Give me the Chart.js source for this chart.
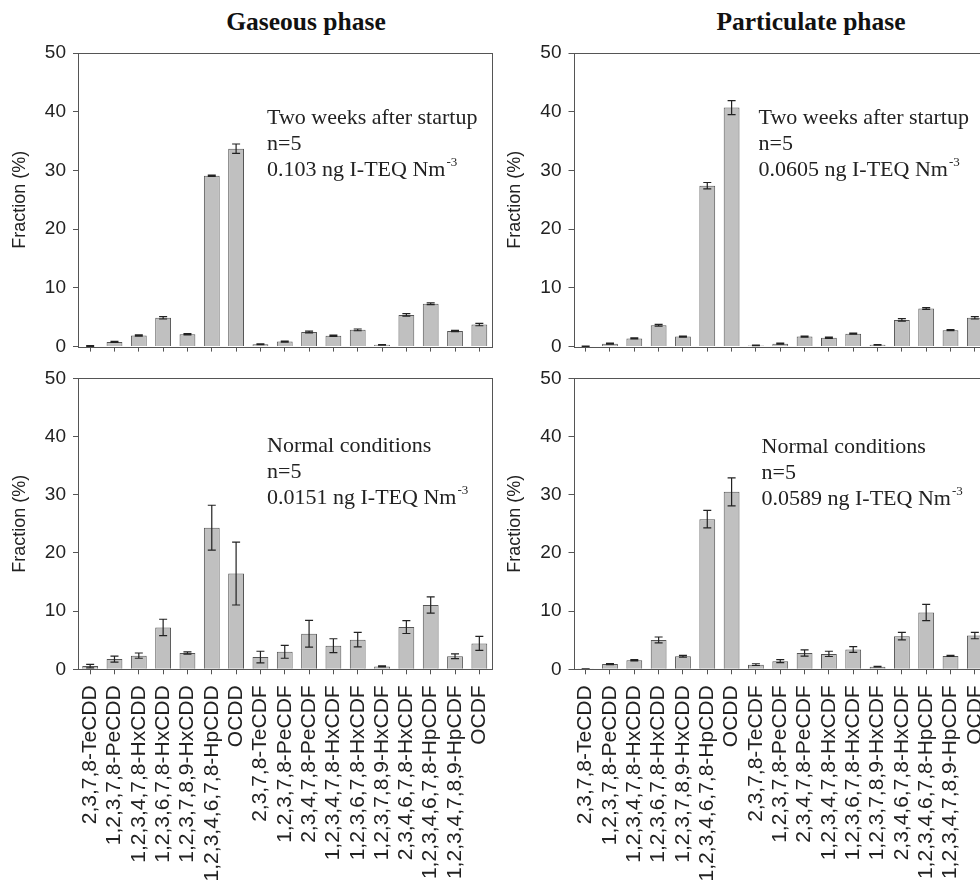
<!DOCTYPE html>
<html>
<head>
<meta charset="utf-8">
<script src="https://cdn.jsdelivr.net/npm/chart.js@4.4.1/dist/chart.umd.min.js"></script>
<style>
  html, body { margin: 0; padding: 0; background: #fff; width: 980px; height: 885px; overflow: hidden; }
  canvas { position: absolute; }
  .title {
    position: absolute; top: 9px; line-height: 1; white-space: nowrap;
    font-family: "Liberation Serif", "Times New Roman", serif; font-weight: bold; font-size: 25.5px;
    transform: translateX(-50%); color: #111;
  }
</style>
</head>
<body>
<div class="title" style="left:306px">Gaseous phase</div>
<div class="title" style="left:811px">Particulate phase</div>
<canvas id="gasTop" width="500" height="365" style="left:0;top:0"></canvas>
<canvas id="partTop" width="510" height="365" style="left:490px;top:0"></canvas>
<canvas id="gasBottom" width="500" height="525" style="left:0;top:360px"></canvas>
<canvas id="partBottom" width="510" height="525" style="left:490px;top:360px"></canvas>
<script>
// ---- data ----
const congeners = ["2,3,7,8-TeCDD", "1,2,3,7,8-PeCDD", "1,2,3,4,7,8-HxCDD", "1,2,3,6,7,8-HxCDD",
  "1,2,3,7,8,9-HxCDD", "1,2,3,4,6,7,8-HpCDD", "OCDD", "2,3,7,8-TeCDF", "1,2,3,7,8-PeCDF",
  "2,3,4,7,8-PeCDF", "1,2,3,4,7,8-HxCDF", "1,2,3,6,7,8-HxCDF", "1,2,3,7,8,9-HxCDF",
  "2,3,4,6,7,8-HxCDF", "1,2,3,4,6,7,8-HpCDF", "1,2,3,4,7,8,9-HpCDF", "OCDF"];

const gasStartup     = [0.1, 0.8, 1.9, 4.9, 2.1, 29.1, 33.7, 0.4, 0.85, 2.5, 1.85, 2.85, 0.3, 5.4, 7.3, 2.65, 3.75];
const gasStartupErr  = [0.05, 0.1, 0.1, 0.2, 0.1, 0.1, 0.8, 0.05, 0.1, 0.15, 0.1, 0.15, 0.05, 0.2, 0.15, 0.1, 0.2];
const partStartup    = [0.05, 0.5, 1.4, 3.65, 1.7, 27.4, 40.7, 0.2, 0.5, 1.7, 1.5, 2.2, 0.3, 4.55, 6.5, 2.8, 4.9];
const partStartupErr = [0.02, 0.1, 0.1, 0.15, 0.1, 0.55, 1.2, 0.05, 0.1, 0.1, 0.1, 0.1, 0.05, 0.2, 0.15, 0.1, 0.2];
const gasNormal      = [0.55, 1.75, 2.35, 7.2, 2.8, 24.35, 16.45, 2.1, 3.0, 6.1, 4.05, 5.1, 0.5, 7.25, 11.05, 2.25, 4.45];
const gasNormalErr   = [0.3, 0.5, 0.45, 1.4, 0.2, 3.85, 5.4, 1.0, 1.1, 2.3, 1.2, 1.25, 0.1, 1.1, 1.4, 0.4, 1.2];
const partNormal     = [0.05, 0.9, 1.55, 5.05, 2.25, 25.8, 30.5, 0.8, 1.4, 2.8, 2.65, 3.4, 0.45, 5.7, 9.75, 2.3, 5.8];
const partNormalErr  = [0.02, 0.1, 0.1, 0.5, 0.15, 1.5, 2.4, 0.15, 0.25, 0.55, 0.45, 0.5, 0.05, 0.65, 1.4, 0.1, 0.55];

const yTicks = [0, 10, 20, 30, 40, 50];

const noteGasStartup  = ["Two weeks after startup", "n=5", "0.103 ng I-TEQ Nm"];
const notePartStartup = ["Two weeks after startup", "n=5", "0.0605 ng I-TEQ Nm"];
const noteGasNormal   = ["Normal conditions", "n=5", "0.0151 ng I-TEQ Nm"];
const notePartNormal  = ["Normal conditions", "n=5", "0.0589 ng I-TEQ Nm"];
const noteSup = "-3";

// error bars, frame box and the text note inside each panel
const panelDecor = {
  id: "panelDecor",
  afterDatasetsDraw(chart, args, opts) {
    const { ctx, chartArea: a, scales: { y } } = chart;
    const ds = chart.data.datasets[0];
    const meta = chart.getDatasetMeta(0);
    ctx.save();

    ctx.strokeStyle = "#222";
    ctx.lineWidth = 1.2;
    meta.data.forEach((bar, i) => {
      const e = ds.errors[i];
      const yt = y.getPixelForValue(ds.data[i] + e);
      const yb = y.getPixelForValue(Math.max(ds.data[i] - e, 0));
      ctx.beginPath();
      ctx.moveTo(bar.x, yt); ctx.lineTo(bar.x, yb);
      ctx.moveTo(bar.x - 4, yt); ctx.lineTo(bar.x + 4, yt);
      ctx.moveTo(bar.x - 4, yb); ctx.lineTo(bar.x + 4, yb);
      ctx.stroke();
    });

    ctx.strokeStyle = "#555";
    ctx.lineWidth = 1;
    ctx.strokeRect(Math.round(a.left) + 0.5, Math.round(a.top) + 0.5,
      Math.round(a.right - a.left), Math.round(a.bottom - a.top));

    ctx.fillStyle = "#222";
    ctx.textBaseline = "alphabetic";
    ctx.textAlign = "left";
    ctx.font = '22px "Liberation Serif", serif';
    const x = a.left + opts.dx;
    opts.lines.forEach((t, k) => {
      const yy = a.top + opts.dy + k * opts.step;
      ctx.fillText(t, x, yy);
      if (k === opts.lines.length - 1) {
        const w = ctx.measureText(t).width;
        ctx.font = '13px "Liberation Serif", serif';
        ctx.fillText(noteSup, x + w + 1, yy - 10);
      }
    });
    ctx.restore();
  }
};

function makePanel(id, values, errors, note, o) {
  new Chart(document.getElementById(id), {
    type: "bar",
    data: {
      labels: congeners,
      datasets: [{
        data: values,
        errors: errors,
        backgroundColor: "#c0c0c0",
        borderColor: "#555",
        borderWidth: 1,
        barPercentage: 0.65,
        categoryPercentage: 1.0
      }]
    },
    options: {
      responsive: false,
      animation: false,
      layout: { padding: o.padding },
      plugins: {
        legend: { display: false },
        tooltip: { enabled: false },
        panelDecor: { lines: note, dx: o.noteDx, dy: o.noteDy, step: 26 }
      },
      scales: {
        x: {
          grid: { offset: false, drawOnChartArea: false, drawTicks: true, tickLength: 5, color: "#555" },
          border: { display: false },
          ticks: {
            display: o.showLabels, autoSkip: false, maxRotation: 90, minRotation: 90, padding: 11,
            color: "#222", font: { family: "Liberation Sans", size: 21 }
          },
          afterFit: s => { s.height = o.xHeight; s.paddingLeft = 0; s.paddingRight = 0; }
        },
        y: {
          min: 0, max: 50,
          afterBuildTicks: s => { s.ticks = yTicks.map(v => ({ value: v })); },
          grid: { drawOnChartArea: false, drawTicks: true, tickLength: 5, color: "#555" },
          border: { display: false },
          ticks: { padding: 7, color: "#222", font: { family: "Liberation Sans", size: 19 } },
          title: {
            display: true, text: "Fraction (%)", color: "#222",
            font: { family: "Liberation Sans", size: 18 }, padding: { top: o.titlePad, bottom: 0 }
          },
          afterFit: s => { s.width = o.yWidth; }
        }
      }
    },
    plugins: [panelDecor]
  });
}

makePanel("gasTop", gasStartup, gasStartupErr, noteGasStartup,
  { padding: { top: 53, right: 8.5, bottom: 5, left: 0 }, xHeight: 10, yWidth: 78, titlePad: 9,
    showLabels: false, noteDx: 189, noteDy: 71 });
makePanel("partTop", partStartup, partStartupErr, notePartStartup,
  { padding: { top: 53, right: 13, bottom: 5, left: 0 }, xHeight: 10, yWidth: 83.5, titlePad: 14,
    showLabels: false, noteDx: 185, noteDy: 71 });
makePanel("gasBottom", gasNormal, gasNormalErr, noteGasNormal,
  { padding: { top: 12.3, right: 8.5, bottom: 0, left: 0 }, xHeight: 215.7, yWidth: 78, titlePad: 9,
    showLabels: true, noteDx: 189, noteDy: 74 });
makePanel("partBottom", partNormal, partNormalErr, notePartNormal,
  { padding: { top: 12.3, right: 13, bottom: 0, left: 0 }, xHeight: 215.7, yWidth: 83.5, titlePad: 14,
    showLabels: true, noteDx: 188, noteDy: 75 });
</script>
</body>
</html>
